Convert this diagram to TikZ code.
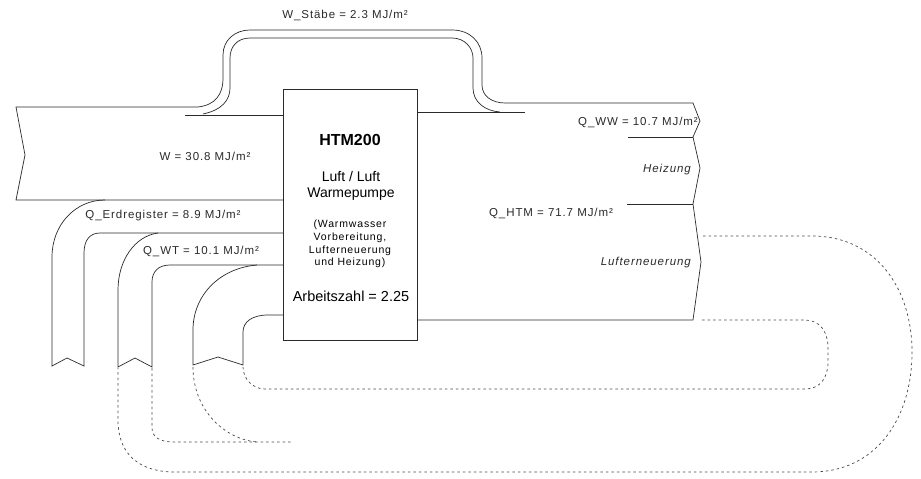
\documentclass[tikz,border=0pt]{standalone}
\usepackage{fontspec}
\setmainfont{Liberation Sans}
\newfontfamily\spaced[LetterSpace=8]{Liberation Sans}
\usepackage{xcolor}
\definecolor{pipe}{HTML}{2A2A2A}

\tikzset{
  pipe/.style={line width=0.7pt, draw=pipe},
  backflow/.style={line width=0.7pt, draw=pipe!85, dash pattern=on 2.5pt off 3pt},
  flowlabel/.style={font=\spaced\fontsize{11.5}{13}\selectfont, inner sep=0pt, text=pipe},
}

\begin{document}
\begin{tikzpicture}[x=1pt,y=-1pt]
\useasboundingbox (0,0) rectangle (921,479);

%heat pump box
\node[draw=pipe, line width=0.7pt, minimum width=134pt, minimum height=251pt, inner sep=0pt] (htm) at (350,214.5) {};
\node[font=\bfseries\fontsize{16}{19}\selectfont] (title) at (350,140) {HTM200};
\node[align=center, font=\fontsize{14}{16.5}\selectfont] (kind) at (351,186) {Luft / Luft\\Warmepumpe};
\node[align=center, font=\spaced\fontsize{10.5}{12.7}\selectfont] (usage) at (350,244) {(Warmwasser\\Vorbereitung,\\Lufterneuerung\\und Heizung)};
\node[font=\fontsize{14.5}{17}\selectfont] (az) at (351,296) {Arbeitszahl = 2.25};

%draw input W
\draw[pipe] (198,107) -- (16,107) -- (25,155) -- (16,200) -- (283,200);
\draw[pipe] (185,115) -- (283,115);

%draw bypass W_Staebe
\draw[pipe] (198,107) .. controls (215,105) and (223,95) .. (223,78) -- (223,55)
  .. controls (223,40) and (235,30) .. (250,30) -- (452,30)
  .. controls (470,30) and (482,42) .. (482,58) -- (482,85)
  .. controls (482,96) and (492,103) .. (505,103) -- (693,103);
\draw[pipe] (203,114) .. controls (222,110) and (230,100) .. (230,88) -- (230,58)
  .. controls (230,46) and (238,38) .. (250,38) -- (452,38)
  .. controls (465,38) and (473,48) .. (473,58) -- (473,88)
  .. controls (473,102) and (485,111) .. (500,112);
\draw[pipe] (417,112) -- (525,112);

%draw outputs
\draw[pipe] (693,103) -- (700,121) -- (693,137) -- (700,168) -- (693,204)
  -- (701,262) -- (693,320) -- (417,320);
\draw[pipe] (628,137) -- (693,137);
\draw[pipe] (627,204) -- (693,204);

%draw returns into the box
\draw[pipe] (105,200) .. controls (75,200) and (52,225) .. (52,257) -- (52,366)
  -- (67,358) -- (84,366) -- (84,253) .. controls (84,240) and (90,233) .. (100,233) -- (283,233);
\draw[pipe] (158,233) .. controls (135,236) and (118,260) .. (118,290) -- (118,367)
  -- (135,358) -- (152,367) -- (152,282) .. controls (152,272) and (158,265) .. (170,265) -- (283,265);
\draw[pipe] (257,265) .. controls (220,268) and (193,295) .. (193,330) -- (193,365)
  -- (218,357) -- (243,365) -- (243,332) .. controls (243,322) and (252,315) .. (268,315) -- (283,315);

%draw dotted loops
\draw[backflow] (703,236) -- (812,236) .. controls (875,236) and (912,287) .. (912,352)
  .. controls (912,420) and (875,472) .. (812,472) -- (175,472)
  .. controls (140,472) and (118,455) .. (118,420) -- (118,368);
\draw[backflow] (702,320) -- (805,320) .. controls (820,320) and (828,332) .. (828,348) -- (828,362)
  .. controls (828,378) and (820,389) .. (805,389) -- (265,389)
  .. controls (252,389) and (243,378) .. (243,367);
\draw[backflow] (152,368) -- (152,428) .. controls (152,437) and (160,442) .. (173,442) -- (292,442);
\draw[backflow] (193,367) .. controls (193,410) and (225,440) .. (258,442);

%labels
\node[flowlabel] (wst) at (345,15) {W\_Stäbe = 2.3 MJ/m²};
\node[flowlabel] (w) at (205,156) {W = 30.8 MJ/m²};
\node[flowlabel] (qerd) at (163,216) {Q\_Erdregister = 8.9 MJ/m²};
\node[flowlabel] (qwt) at (201,251) {Q\_WT = 10.1 MJ/m²};
\node[flowlabel, anchor=east] (qww) at (698,122) {Q\_WW = 10.7 MJ/m²};
\node[flowlabel] (qhtm) at (551,213) {Q\_HTM = 71.7 MJ/m²};
\node[flowlabel, font=\spaced\itshape\fontsize{11.5}{13}\selectfont, anchor=east] (heiz) at (691,170) {Heizung};
\node[flowlabel, font=\spaced\itshape\fontsize{11.5}{13}\selectfont, anchor=east] (luft) at (691,263) {Lufterneuerung};
\end{tikzpicture}
\end{document}
